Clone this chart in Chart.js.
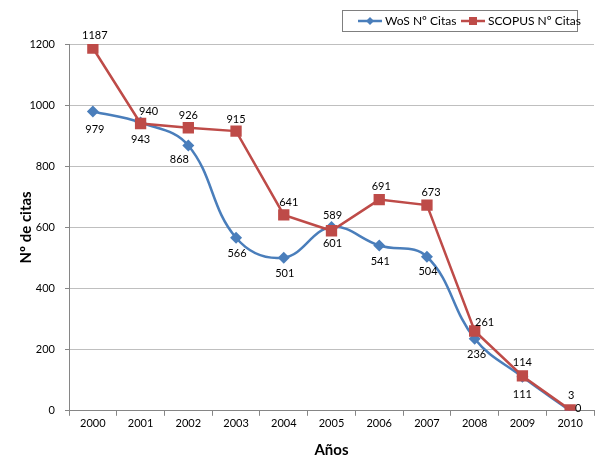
<!DOCTYPE html>
<html><head><meta charset="utf-8">
<script src="https://cdn.jsdelivr.net/npm/chart.js@4.4.1/dist/chart.umd.min.js"></script>
<style>html,body{margin:0;padding:0;background:#fff}#wrap{width:609px;height:473px}</style>
</head><body><div id="wrap"><canvas id="c" width="609" height="473"></canvas></div>
<script>
const years = ['2000','2001','2002','2003','2004','2005','2006','2007','2008','2009','2010'];
const wosCitas = [979, 943, 868, 566, 501, 601, 541, 504, 236, 111, 0];
const scopusCitas = [1187, 940, 926, 915, 641, 589, 691, 673, 261, 114, 3];
const yTicks = [0, 200, 400, 600, 800, 1000, 1200];
const seriesNames = ['WoS Nº Citas', 'SCOPUS Nº Citas'];

const BLUE = '#4A7EBB', RED = '#BE4B48';
const FONT = 'Lato, "Open Sans", sans-serif';

// label offsets (dx, dy) per dataset, per point
const labelOffsets = [
  [[2,18],[0,17],[-9,14],[1,16],[1,16],[1,16],[1,16],[1,15],[2,16],[0,18],[8,-2]],
  [[2,-13],[8,-12],[0,-12],[0,-12],[5,-12],[1,-15],[2,-13],[4,-13],[10,-9],[0,-14],[1,-14]]
];

const labelPlugin = {
  id: 'pointLabels',
  afterDatasetsDraw(chart) {
    const ctx = chart.ctx;
    ctx.save();
    ctx.font = '11px ' + FONT;
    ctx.fillStyle = '#000';
    ctx.textAlign = 'center';
    ctx.textBaseline = 'middle';
    chart.data.datasets.forEach((ds, di) => {
      const meta = chart.getDatasetMeta(di);
      meta.data.forEach((pt, i) => {
        const o = labelOffsets[di][i];
        ctx.fillText(String(ds.data[i]), pt.x + o[0], pt.y + o[1]);
      });
    });
    ctx.restore();
  }
};

const legendPlugin = {
  id: 'boxLegend',
  afterDraw(chart) {
    const ctx = chart.ctx;
    ctx.save();
    const x0 = 342, y0 = 10, w = 235, h = 21;
    ctx.strokeStyle = '#7f7f7f';
    ctx.lineWidth = 1;
    ctx.strokeRect(x0 + 0.5, y0 + 0.5, w, h);
    ctx.font = '12px ' + FONT;
    ctx.textBaseline = 'middle';
    ctx.textAlign = 'left';
    const cy = y0 + h / 2 + 0.5;
    const items = [
      {x: 358, color: BLUE, shape: 'diamond', text: seriesNames[0]},
      {x: 461, color: RED, shape: 'square', text: seriesNames[1]}
    ];
    items.forEach(it => {
      ctx.strokeStyle = it.color;
      ctx.lineWidth = 2.5;
      ctx.beginPath();
      ctx.moveTo(it.x, cy);
      ctx.lineTo(it.x + 24, cy);
      ctx.stroke();
      ctx.fillStyle = it.color;
      const mx = it.x + 12;
      if (it.shape === 'diamond') {
        ctx.beginPath();
        ctx.moveTo(mx, cy - 4); ctx.lineTo(mx + 4, cy); ctx.lineTo(mx, cy + 4); ctx.lineTo(mx - 4, cy);
        ctx.closePath(); ctx.fill();
      } else {
        ctx.fillRect(mx - 4, cy - 4, 8, 8);
      }
      ctx.fillStyle = '#000';
      ctx.fillText(it.text, it.x + 27, cy);
    });
    ctx.restore();
  }
};

new Chart(document.getElementById('c'), {
  type: 'line',
  data: {
    labels: years,
    datasets: [
      {
        label: seriesNames[0], data: wosCitas,
        borderColor: BLUE, backgroundColor: BLUE, borderWidth: 2.5,
        tension: 0.4, pointStyle: 'rectRot', pointRadius: 6, pointHoverRadius: 6,
        pointBorderWidth: 0, order: 2
      },
      {
        label: seriesNames[1], data: scopusCitas,
        borderColor: RED, backgroundColor: RED, borderWidth: 2.5,
        tension: 0, pointStyle: 'rect', pointRadius: 8, pointHoverRadius: 8,
        pointBorderWidth: 0, order: 1
      }
    ]
  },
  options: {
    responsive: false,
    animation: false,
    devicePixelRatio: 1,
    layout: { padding: { top: 44, right: 15, bottom: 10, left: 17 } },
    plugins: { legend: { display: false }, tooltip: { enabled: false } },
    scales: {
      x: {
        offset: true,
        grid: { offset: true, drawOnChartArea: false, drawTicks: true, tickLength: 5, color: '#868686' },
        border: { color: '#868686', width: 1 },
        ticks: { color: '#000', font: { size: 11, family: FONT }, padding: 1, maxRotation: 0 },
        title: { display: true, text: 'Años', color: '#000', font: { size: 15, weight: 'bold', family: FONT }, padding: { top: 10 } }
      },
      y: {
        min: 0, max: 1200,
        afterBuildTicks(axis) { axis.ticks = yTicks.map(v => ({ value: v })); },
        afterFit(axis) { axis.width = 52; },
        grid: { color: '#BFBFBF', tickLength: 4, tickColor: '#868686' },
        border: { color: '#868686', width: 1 },
        ticks: { color: '#000', font: { size: 11, family: FONT }, padding: 10, callback: v => String(v) },
        title: { display: true, text: 'Nº de citas', color: '#000', font: { size: 15, weight: 'bold', family: FONT }, padding: { top: 0, bottom: 0 } }
      }
    }
  },
  plugins: [labelPlugin, legendPlugin]
});
</script>
</body></html>
